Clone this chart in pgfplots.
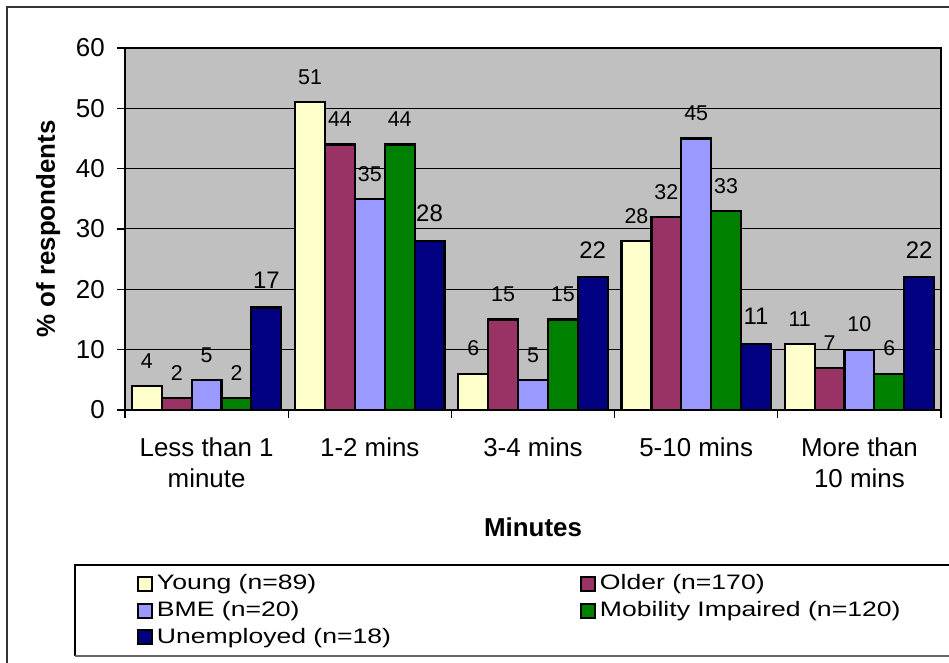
\documentclass[border=0pt]{standalone}
\usepackage{fontspec}
\setmainfont{Liberation Sans}
\newfontfamily\legendfont[FakeStretch=1.27]{Liberation Sans}
\usepackage{pgfplots}
\pgfplotsset{compat=1.18}

\definecolor{cYoung}{HTML}{FFFFCC}
\definecolor{cOlder}{HTML}{993366}
\definecolor{cBME}{HTML}{9999FF}
\definecolor{cMob}{HTML}{008000}
\definecolor{cUnemp}{HTML}{000080}
\definecolor{plotgray}{HTML}{C0C0C0}

\newcommand{\smallLab}{\fontsize{21.5}{24}\selectfont}
\newcommand{\bigLab}{\fontsize{24}{27}\selectfont}

\begin{document}
\begin{tikzpicture}[x=1bp,y=1bp]
\begin{axis}[
  width=816bp, height=362bp, scale only axis,
  xmin=-0.5, xmax=4.5, ymin=0, ymax=60,
  ybar, bar width=0.183,
  axis background/.style={fill=plotgray},
  axis line style={line width=2bp, black},
  ytick={0,10,...,60},
  ymajorgrids, grid style={line width=1bp, black},
  tick align=outside, tick pos=left, major tick length=8bp,
  tick style={line width=1.1bp, black},
  xtick={0,1,2,3,4},
  xticklabels={Less than 1\\minute, 1-2 mins, 3-4 mins, 5-10 mins, More than\\10 mins},
  xtick style={draw=none},
  extra x ticks={-0.5,0.5,1.5,2.5,3.5,4.5},
  extra x tick labels={},
  extra x tick style={xtick style={draw=black, line width=1.1bp}, grid=none},
  /pgf/number format/assume math mode=true,
  xticklabel style={font=\fontsize{26}{31}\selectfont, align=center, inner sep=0pt, anchor=north, yshift=-19.5bp},
  yticklabel style={font=\fontsize{26}{30}\selectfont, inner sep=0pt, anchor=east, xshift=-12bp},
  xlabel={Minutes},
  xlabel style={font=\bfseries\fontsize{26}{30}\selectfont, at={(axis description cs:0.5,-0.3508)}, anchor=base},
  ylabel={\% of respondents},
  ylabel style={font=\bfseries\fontsize{26}{30}\selectfont, at={(axis description cs:-0.0858,0.5)}, anchor=base},
  every node near coord/.append style={inner sep=0pt, anchor=south, yshift=16.5bp, text=black},
  legend image code/.code={\draw[#1, draw=black, line width=2bp] (0bp,-1bp) rectangle (14bp,13bp);},
  legend columns=2,
  legend cell align=left,
  legend style={at={(axis description cs:0.0147,-0.455)}, anchor=north west,
    draw=none, fill=none, inner sep=0pt, outer sep=0pt,
    row sep=9.5bp, column sep=4bp,
    font=\legendfont\fontsize{21}{25}\selectfont,
    nodes={inner sep=0pt, anchor=base west}},
]
\coordinate (sw) at (rel axis cs:0,0);
\addplot[fill=cYoung, draw=black, line width=2.2bp, bar shift=-0.366,
  nodes near coords, nodes near coords style={font=\smallLab}]
  coordinates {(0,4) (1,51) (2,6) (3,28) (4,11)};
\addlegendentry{\makebox[419bp][l]{Young (n=89)}}
\addplot[fill=cOlder, draw=black, line width=2.2bp, bar shift=-0.183,
  nodes near coords, nodes near coords style={font=\smallLab}]
  coordinates {(0,2) (1,44) (2,15) (3,32) (4,7)};
\addlegendentry{Older (n=170)}
\addplot[fill=cBME, draw=black, line width=2.2bp, bar shift=0,
  nodes near coords, nodes near coords style={font=\smallLab}]
  coordinates {(0,5) (1,35) (2,5) (3,45) (4,10)};
\addlegendentry{\makebox[419bp][l]{BME (n=20)}}
\addplot[fill=cMob, draw=black, line width=2.2bp, bar shift=0.183,
  nodes near coords, nodes near coords style={font=\smallLab}]
  coordinates {(0,2) (1,44) (2,15) (3,33) (4,6)};
\addlegendentry{Mobility Impaired (n=120)}
\addplot[fill=cUnemp, draw=black, line width=2.2bp, bar shift=0.366,
  nodes near coords, nodes near coords style={font=\bigLab, yshift=1.5bp}]
  coordinates {(0,17) (1,28) (2,22) (3,11) (4,22)};
\addlegendentry{\makebox[419bp][l]{Unemployed (n=18)}}
\end{axis}
% outer chart frame
\draw[line width=1.5bp, black!80] ([shift={(-118,-253)}]sw) -- ([shift={(-118,403)}]sw) -- ([shift={(824,403)}]sw);
% legend frame
\draw[line width=1.2bp] ([shift={(824,-155)}]sw) -- ([shift={(-50,-155)}]sw) -- ([shift={(-50,-246)}]sw);
\draw[line width=1.8bp, black!60] ([shift={(-50,-246)}]sw) -- ([shift={(824,-246)}]sw);
\pgfresetboundingbox
\useasboundingbox ([shift={(-125,-253)}]sw) rectangle ([shift={(824,410)}]sw);
\end{tikzpicture}
\end{document}
